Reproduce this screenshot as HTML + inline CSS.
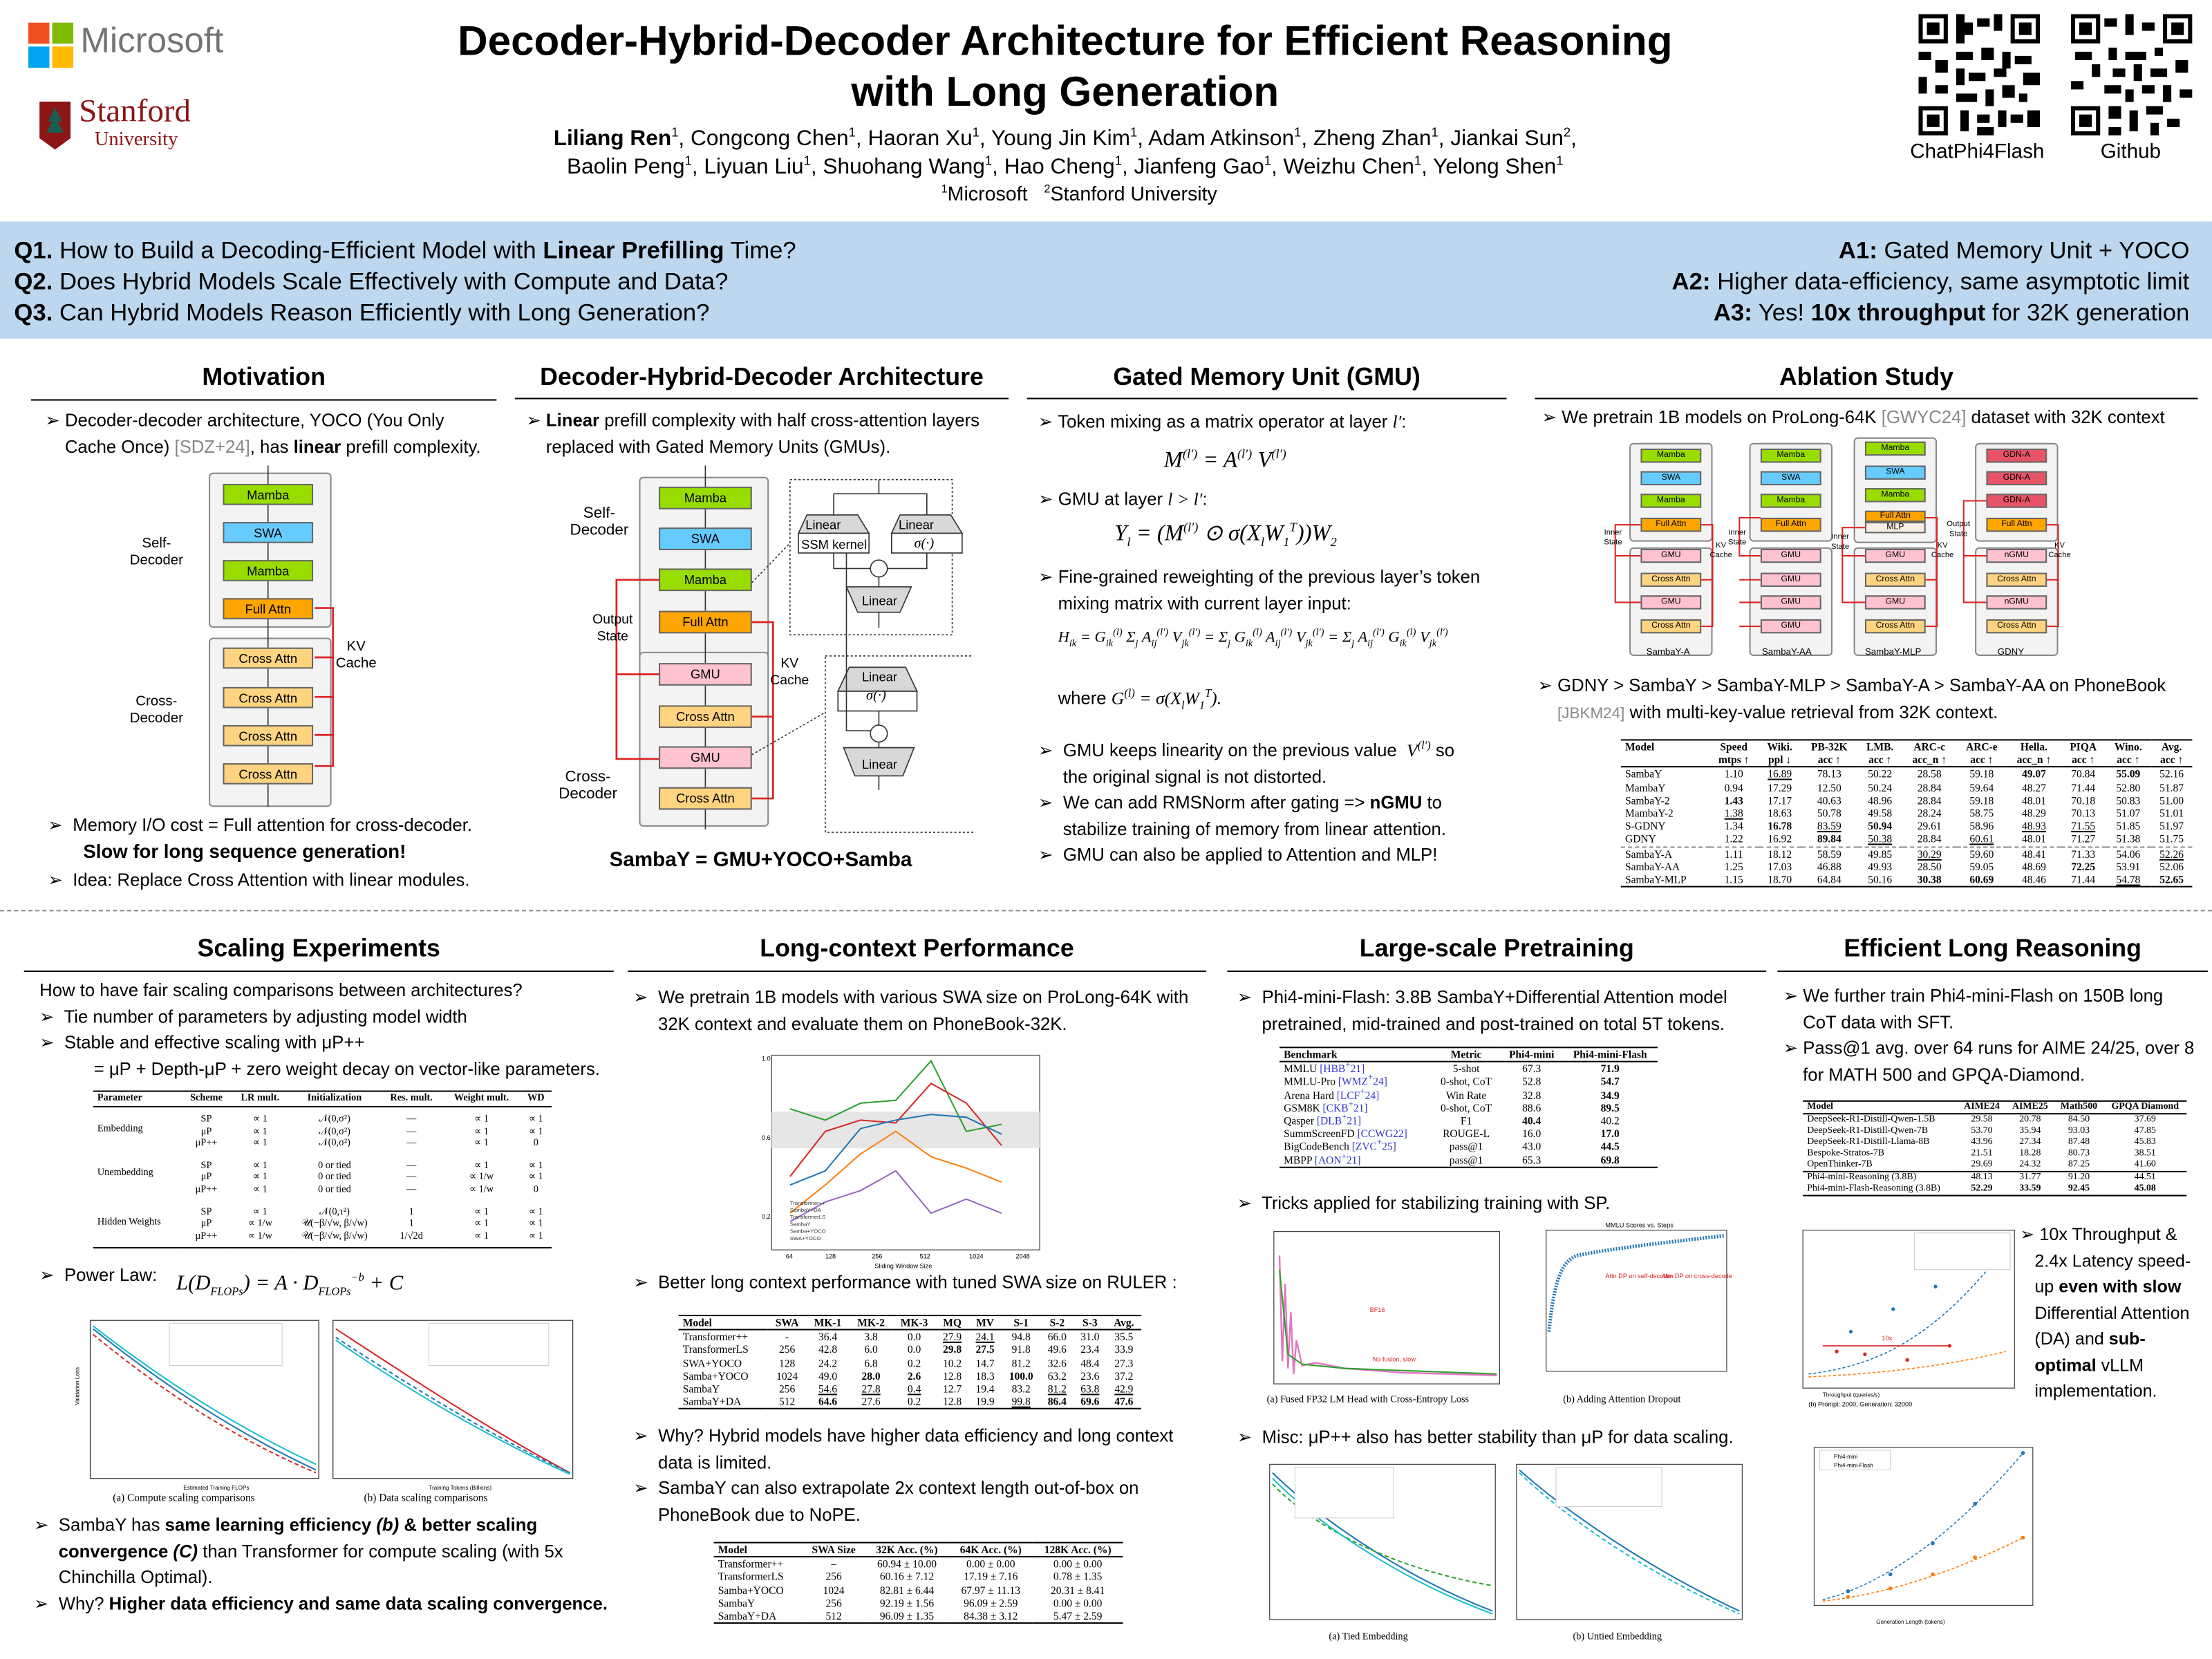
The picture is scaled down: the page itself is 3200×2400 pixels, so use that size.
<!DOCTYPE html>
<html><head><meta charset="utf-8">
<style>
*{margin:0;padding:0;box-sizing:border-box}
sup,sub{line-height:0}
body{width:3200px;height:2400px;overflow:hidden;background:#fff;font-family:"Liberation Sans",sans-serif;color:#000}
#p{position:absolute;left:0;top:0;width:1568px;height:1176px;transform:scale(2.0408);transform-origin:0 0}
.a{position:absolute;white-space:nowrap}
.h{position:absolute;font-weight:bold;font-size:17.5px;text-align:center}
.ul{position:absolute;height:1px;background:#000}
.t{position:absolute;font-size:12.6px;line-height:18.5px;white-space:nowrap}
.cite{color:#888}
.b{position:absolute;border:1px solid #666;text-align:center;font-size:9px;line-height:14px;font-family:"Liberation Sans Narrow","Liberation Sans",sans-serif}
.sb{position:absolute;border:1px solid #888;border-radius:3px;background:#f3f3f3}
.mam{background:#99dd00}.swa{background:#66ccff}.fa{background:#ffa500}.ca{background:#ffd480}.gmu{background:#ffc2cf}.gdn{background:#e75468}.mlp{background:#f7efe4}
.lbl{position:absolute;font-size:10px;text-align:center;line-height:12px}
table{border-collapse:collapse;font-family:"Liberation Serif",serif}
.tb{position:absolute;font-size:7.6px;line-height:9.2px}
.tb td,.tb th{padding:0 3px;white-space:nowrap;text-align:center;vertical-align:top}
.tb td:first-child,.tb th:first-child{text-align:left;vertical-align:middle}
.tb thead tr:first-child th{border-top:1.3px solid #000}
.tb thead tr:last-child th{border-bottom:1px solid #000}
.tb tbody tr:last-child td{border-bottom:1.3px solid #000}
.m{font-family:"Liberation Serif",serif;font-style:italic}
svg{position:absolute}
</style></head><body><div id="p">

<!-- Header -->
<svg style="left:20px;top:16px" width="32" height="32"><rect x="0" y="0" width="15" height="15" fill="#f25022"/><rect x="17" y="0" width="15" height="15" fill="#7fba00"/><rect x="0" y="17" width="15" height="15" fill="#00a4ef"/><rect x="17" y="17" width="15" height="15" fill="#ffb900"/></svg>
<div class="a" style="left:57px;top:15px;font-size:25px;color:#737373">Microsoft</div>
<svg style="left:26px;top:70px" width="26" height="38"><path d="M2 2 H24 V28 L13 36 L2 28Z" fill="#8c1515"/><path d="M13 6 L8 16 H11 L7 24 H19 L15 16 H18Z" fill="#175e54"/></svg>
<div class="a" style="left:56px;top:66px;font-size:23px;color:#8c1515;font-family:'Liberation Serif',serif">Stanford</div>
<div class="a" style="left:67px;top:92px;font-size:14px;color:#8c1515;font-family:'Liberation Serif',serif">University</div>

<div class="a" style="left:0;width:1510px;top:12px;text-align:center;font-size:29.5px;font-weight:bold;line-height:36px">Decoder-Hybrid-Decoder Architecture for Efficient Reasoning<br>with Long Generation</div>
<div class="a" style="left:0;width:1510px;top:89px;text-align:center;font-size:15.5px;line-height:20px"><b>Liliang Ren</b><sup style="font-size:9px">1</sup>, Congcong Chen<sup style="font-size:9px">1</sup>, Haoran Xu<sup style="font-size:9px">1</sup>, Young Jin Kim<sup style="font-size:9px">1</sup>, Adam Atkinson<sup style="font-size:9px">1</sup>, Zheng Zhan<sup style="font-size:9px">1</sup>, Jiankai Sun<sup style="font-size:9px">2</sup>,<br>Baolin Peng<sup style="font-size:9px">1</sup>, Liyuan Liu<sup style="font-size:9px">1</sup>, Shuohang Wang<sup style="font-size:9px">1</sup>, Hao Cheng<sup style="font-size:9px">1</sup>, Jianfeng Gao<sup style="font-size:9px">1</sup>, Weizhu Chen<sup style="font-size:9px">1</sup>, Yelong Shen<sup style="font-size:9px">1</sup></div>
<div class="a" style="left:0;width:1530px;top:129px;text-align:center;font-size:14px"><sup style="font-size:8px">1</sup>Microsoft &nbsp; <sup style="font-size:8px">2</sup>Stanford University</div>

<svg style="left:1360px;top:10px" width="86" height="86" viewBox="0 0 29 29"><rect width="29" height="29" fill="#fff"/><g fill="#000"><rect x="0" y="0" width="7" height="7"/><rect x="22" y="0" width="7" height="7"/><rect x="0" y="22" width="7" height="7"/></g><g fill="#fff"><rect x="1" y="1" width="5" height="5"/><rect x="23" y="1" width="5" height="5"/><rect x="1" y="23" width="5" height="5"/></g><g fill="#000"><rect x="2" y="2" width="3" height="3"/><rect x="24" y="2" width="3" height="3"/><rect x="2" y="24" width="3" height="3"/><path d="M9 0h2v2h2v3h-2v2h-2zM14 1h3v2h-3zM18 0h2v4h-2zM9 9h4v2h-4zM15 8h3v3h-3zM20 9h2v4h-2zM0 9h3v2h-3zM4 11h3v3h-3zM9 13h2v4h-2zM12 14h4v2h-4zM18 13h3v2h-3zM23 10h4v2h-4zM25 14h4v3h-4zM0 15h2v4h-2zM4 17h3v2h-3zM9 19h5v2h-5zM16 18h2v4h-2zM20 17h3v3h-3zM24 19h2v2h-2zM10 23h2v5h-2zM14 24h3v2h-3zM19 23h2v4h-2zM22 24h3v2h-3zM26 23h3v4h-3zM14 27h4v2h-4z"/></g></svg>
<svg style="left:1468px;top:10px" width="86" height="86" viewBox="0 0 29 29"><rect width="29" height="29" fill="#fff"/><g fill="#000"><rect x="0" y="0" width="7" height="7"/><rect x="22" y="0" width="7" height="7"/><rect x="0" y="22" width="7" height="7"/></g><g fill="#fff"><rect x="1" y="1" width="5" height="5"/><rect x="23" y="1" width="5" height="5"/><rect x="1" y="23" width="5" height="5"/></g><g fill="#000"><rect x="2" y="2" width="3" height="3"/><rect x="24" y="2" width="3" height="3"/><rect x="2" y="24" width="3" height="3"/><path d="M8 1h3v2h-3zM13 0h2v5h-2zM17 2h3v2h-3zM9 8h2v3h-2zM13 9h5v2h-5zM20 8h2v2h-2zM1 9h4v2h-4zM5 12h2v3h-2zM10 13h3v2h-3zM15 12h2v4h-2zM19 13h4v2h-4zM25 11h3v3h-3zM0 16h3v2h-3zM8 17h4v2h-4zM13 18h2v3h-2zM17 17h3v2h-3zM22 17h2v4h-2zM26 18h3v2h-3zM9 22h3v3h-3zM14 23h2v5h-2zM18 22h4v2h-4zM23 25h3v2h-3zM9 27h3v2h-3zM19 26h2v3h-2z"/></g></svg>
<div class="a" style="left:1354px;top:100px;font-size:14.5px">ChatPhi4Flash</div>
<div class="a" style="left:1489px;top:100px;font-size:14.5px">Github</div>

<!-- Blue band -->
<div class="a" style="left:0;top:157px;width:1568px;height:83px;background:#bdd7ee"></div>
<div class="a" style="left:10px;top:167px;font-size:17px;line-height:22px"><b>Q1.</b> How to Build a Decoding-Efficient Model with <b>Linear Prefilling</b> Time?<br><b>Q2.</b> Does Hybrid Models Scale Effectively with Compute and Data?<br><b>Q3.</b> Can Hybrid Models Reason Efficiently with Long Generation?</div>
<div class="a" style="right:16px;top:167px;font-size:17px;line-height:22px;text-align:right"><b>A1:</b> Gated Memory Unit + YOCO<br><b>A2:</b> Higher data-efficiency, same asymptotic limit<br><b>A3:</b> Yes! <b>10x throughput</b> for 32K generation</div>

<!-- Row 1 headings -->
<div class="h" style="left:22px;width:330px;top:257px">Motivation</div><div class="ul" style="left:22px;width:330px;top:283px"></div>
<div class="h" style="left:365px;width:350px;top:257px">Decoder-Hybrid-Decoder Architecture</div><div class="ul" style="left:365px;width:350px;top:282px"></div>
<div class="h" style="left:728px;width:340px;top:257px">Gated Memory Unit (GMU)</div><div class="ul" style="left:728px;width:340px;top:282px"></div>
<div class="h" style="left:1088px;width:470px;top:257px">Ablation Study</div><div class="ul" style="left:1088px;width:470px;top:282px"></div>

<!-- Motivation -->
<div class="t" style="left:32px;top:289px">➢ Decoder-decoder architecture, YOCO (You Only<br>&nbsp;&nbsp;&nbsp;&nbsp;Cache Once) <span class="cite">[SDZ+24]</span>, has <b>linear</b> prefill complexity.</div>
<div class="sb" style="left:148px;top:335px;width:87px;height:110px"></div>
<div class="sb" style="left:148px;top:452px;width:87px;height:120px"></div>
<div class="b mam" style="left:158px;top:343px;width:64px;height:15px">Mamba</div>
<div class="b swa" style="left:158px;top:370px;width:64px;height:15px">SWA</div>
<div class="b mam" style="left:158px;top:397px;width:64px;height:15px">Mamba</div>
<div class="b fa" style="left:158px;top:424px;width:64px;height:15px">Full Attn</div>
<div class="b ca" style="left:158px;top:459px;width:64px;height:15px">Cross Attn</div>
<div class="b ca" style="left:158px;top:487px;width:64px;height:15px">Cross Attn</div>
<div class="b ca" style="left:158px;top:514px;width:64px;height:15px">Cross Attn</div>
<div class="b ca" style="left:158px;top:541px;width:64px;height:15px">Cross Attn</div>
<svg style="left:150px;top:330px" width="120" height="250"><g stroke="#333" fill="none" stroke-width=".8"><path d="M40 0V13M40 28V40M40 55V67M40 82V94M40 109V129M40 144V157M40 172V184M40 199V211M40 226V242"/></g><g stroke="#d22" fill="none" stroke-width="1.3"><path d="M73 101H86V213H73M86 136H73M86 164H73M86 191H73"/></g></svg>
<div class="lbl" style="left:238px;top:453px">KV<br>Cache</div>
<div class="lbl" style="left:92px;top:380px">Self-<br>Decoder</div>
<div class="lbl" style="left:92px;top:492px">Cross-<br>Decoder</div>
<div class="t" style="left:34px;top:576px">➢&nbsp; Memory I/O cost = Full attention for cross-decoder.</div>
<div class="a" style="left:59px;top:596px;font-size:13.5px;font-weight:bold">Slow for long sequence generation!</div>
<div class="t" style="left:34px;top:615px">➢&nbsp; Idea: Replace Cross Attention with linear modules.</div>

<!-- Architecture -->
<div class="t" style="left:373px;top:289px">➢ <b>Linear</b> prefill complexity with half cross-attention layers<br>&nbsp;&nbsp;&nbsp;&nbsp;replaced with Gated Memory Units (GMUs).</div>
<div class="sb" style="left:453px;top:338px;width:92px;height:140px"></div>
<div class="sb" style="left:453px;top:462px;width:92px;height:124px"></div>
<div class="b mam" style="left:467px;top:345px;width:66px;height:16px">Mamba</div>
<div class="b swa" style="left:467px;top:374px;width:66px;height:16px">SWA</div>
<div class="b mam" style="left:467px;top:403px;width:66px;height:16px">Mamba</div>
<div class="b fa" style="left:467px;top:433px;width:66px;height:16px">Full Attn</div>
<div class="b gmu" style="left:467px;top:470px;width:66px;height:16px">GMU</div>
<div class="b ca" style="left:467px;top:500px;width:66px;height:16px">Cross Attn</div>
<div class="b gmu" style="left:467px;top:529px;width:66px;height:16px">GMU</div>
<div class="b ca" style="left:467px;top:558px;width:66px;height:16px">Cross Attn</div>
<svg style="left:420px;top:330px" width="270" height="270"><g stroke="#333" fill="none" stroke-width=".8"><path d="M80 0V15M80 31V44M80 60V73M80 89V103M80 119V140M80 156V170M80 186V199M80 215V228M80 244V258"/></g><g stroke="#d22" fill="none" stroke-width="1.3"><path d="M47 81H17V148H47M17 148V208H47M113 111H128V236H113M128 178H113"/></g>
<g stroke="#333" fill="none" stroke-width=".8" stroke-dasharray="1.5,1.5"><rect x="140" y="10" width="115" height="110"/><rect x="165" y="135" width="110" height="125"/><path d="M113 83L140 55M113 205L165 175"/></g>
<g stroke="#333" stroke-width=".8"><path d="M152 35H188L196 48H146Z" fill="#d8d8d8"/><rect x="146" y="48" width="50" height="14" fill="#fff"/><path d="M218 35H254L262 48H212Z" fill="#d8d8d8"/><rect x="212" y="48" width="50" height="14" fill="#fff"/><path d="M180 86H226L218 104H188Z" fill="#d8d8d8"/><circle cx="203" cy="73" r="6" fill="#fff"/><path d="M182 143H222L230 160H174Z" fill="#d8d8d8"/><rect x="174" y="160" width="56" height="14" fill="#fff"/><circle cx="203" cy="190" r="6" fill="#fff"/><path d="M178 200H228L220 220H186Z" fill="#d8d8d8"/><path d="M203 20V10M171 20H237V35M171 20V35M171 62V73H197M237 62V73H209M203 79V86M203 104V115M203 174V184M203 196V200M203 220V230M180 62V130H180V188H197" fill="none"/></g></svg>
<div class="lbl" style="left:571px;top:366px;font-size:9px">Linear</div>
<div class="lbl" style="left:637px;top:366px;font-size:9px">Linear</div>
<div class="lbl" style="left:568px;top:380px;font-size:9px">SSM kernel</div>
<div class="lbl m" style="left:648px;top:380px;font-size:10px">σ(·)</div>
<div class="lbl" style="left:611px;top:420px;font-size:9px">Linear</div>
<div class="lbl" style="left:611px;top:474px;font-size:9px">Linear</div>
<div class="lbl m" style="left:614px;top:488px;font-size:10px">σ(·)</div>
<div class="lbl" style="left:611px;top:536px;font-size:9px">Linear</div>
<div class="lbl" style="left:404px;top:358px;font-size:11px">Self-<br>Decoder</div>
<div class="lbl" style="left:420px;top:434px;font-size:9.5px">Output<br>State</div>
<div class="lbl" style="left:546px;top:465px;font-size:9.5px">KV<br>Cache</div>
<div class="lbl" style="left:396px;top:545px;font-size:11px">Cross-<br>Decoder</div>
<div class="a" style="left:432px;top:602px;font-size:14.5px;font-weight:bold">SambaY = GMU+YOCO+Samba</div>

<!-- GMU -->
<div class="t" style="left:736px;top:290px">➢ Token mixing as a matrix operator at layer <span class="m">l′</span>:</div>
<div class="a m" style="left:825px;top:318px;font-size:16px">M<sup style="font-size:9px">(l′)</sup> = A<sup style="font-size:9px">(l′)</sup> V<sup style="font-size:9px">(l′)</sup></div>
<div class="t" style="left:736px;top:345px">➢ GMU at layer <span class="m">l &gt; l′</span>:</div>
<div class="a m" style="left:790px;top:368px;font-size:16px">Y<sub style="font-size:9px">l</sub> = (M<sup style="font-size:9px">(l′)</sup> ⊙ σ(X<sub style="font-size:9px">l</sub>W<sub style="font-size:9px">1</sub><sup style="font-size:9px">T</sup>))W<sub style="font-size:9px">2</sub></div>
<div class="t" style="left:736px;top:400px">➢ Fine-grained reweighting of the previous layer’s token<br>&nbsp;&nbsp;&nbsp;&nbsp;mixing matrix with current layer input:</div>
<div class="a m" style="left:750px;top:446px;font-size:11px">H<sub style="font-size:7px">ik</sub> = G<sub style="font-size:7px">ik</sub><sup style="font-size:7px">(l)</sup> Σ<sub style="font-size:7px">j</sub> A<sub style="font-size:7px">ij</sub><sup style="font-size:7px">(l′)</sup> V<sub style="font-size:7px">jk</sub><sup style="font-size:7px">(l′)</sup> = Σ<sub style="font-size:7px">j</sub> G<sub style="font-size:7px">ik</sub><sup style="font-size:7px">(l)</sup> A<sub style="font-size:7px">ij</sub><sup style="font-size:7px">(l′)</sup> V<sub style="font-size:7px">jk</sub><sup style="font-size:7px">(l′)</sup> = Σ<sub style="font-size:7px">j</sub> A<sub style="font-size:7px">ij</sub><sup style="font-size:7px">(l′)</sup> G<sub style="font-size:7px">ik</sub><sup style="font-size:7px">(l)</sup> V<sub style="font-size:7px">jk</sub><sup style="font-size:7px">(l′)</sup></div>
<div class="t" style="left:750px;top:486px">where <span class="m">G<sup style="font-size:8px">(l)</sup> = σ(X<sub style="font-size:8px">l</sub>W<sub style="font-size:8px">1</sub><sup style="font-size:8px">T</sup>).</span></div>
<div class="t" style="left:736px;top:523px">➢&nbsp; GMU keeps linearity on the previous value &nbsp;<span class="m">V<sup style="font-size:8px">(l′)</sup></span> so<br>&nbsp;&nbsp;&nbsp;&nbsp;&nbsp;the original signal is not distorted.<br>➢&nbsp; We can add RMSNorm after gating =&gt; <b>nGMU</b> to<br>&nbsp;&nbsp;&nbsp;&nbsp;&nbsp;stabilize training of memory from linear attention.<br>➢&nbsp; GMU can also be applied to Attention and MLP!</div>

<!-- Ablation -->
<div class="t" style="left:1093px;top:287px">➢ We pretrain 1B models on ProLong-64K <span class="cite">[GWYC24]</span> dataset with 32K context</div>
<div class="sb" style="left:1155px;top:314px;width:59px;height:70px"></div><div class="sb" style="left:1155px;top:388px;width:59px;height:77px"></div>
<div class="b mam" style="left:1163px;top:318px;width:43px;height:10px;font-size:6px;line-height:9px">Mamba</div>
<div class="b swa" style="left:1163px;top:334px;width:43px;height:10px;font-size:6px;line-height:9px">SWA</div>
<div class="b mam" style="left:1163px;top:350px;width:43px;height:10px;font-size:6px;line-height:9px">Mamba</div>
<div class="b fa" style="left:1163px;top:367px;width:43px;height:10px;font-size:6px;line-height:9px">Full Attn</div>
<div class="b gmu" style="left:1163px;top:389px;width:43px;height:10px;font-size:6px;line-height:9px">GMU</div>
<div class="b ca" style="left:1163px;top:406px;width:43px;height:10px;font-size:6px;line-height:9px">Cross Attn</div>
<div class="b gmu" style="left:1163px;top:422px;width:43px;height:10px;font-size:6px;line-height:9px">GMU</div>
<div class="b ca" style="left:1163px;top:439px;width:43px;height:10px;font-size:6px;line-height:9px">Cross Attn</div>
<div class="sb" style="left:1240px;top:314px;width:59px;height:70px"></div><div class="sb" style="left:1240px;top:388px;width:59px;height:77px"></div>
<div class="b mam" style="left:1248px;top:318px;width:43px;height:10px;font-size:6px;line-height:9px">Mamba</div>
<div class="b swa" style="left:1248px;top:334px;width:43px;height:10px;font-size:6px;line-height:9px">SWA</div>
<div class="b mam" style="left:1248px;top:350px;width:43px;height:10px;font-size:6px;line-height:9px">Mamba</div>
<div class="b fa" style="left:1248px;top:367px;width:43px;height:10px;font-size:6px;line-height:9px">Full Attn</div>
<div class="b gmu" style="left:1248px;top:389px;width:43px;height:10px;font-size:6px;line-height:9px">GMU</div>
<div class="b gmu" style="left:1248px;top:406px;width:43px;height:10px;font-size:6px;line-height:9px">GMU</div>
<div class="b gmu" style="left:1248px;top:422px;width:43px;height:10px;font-size:6px;line-height:9px">GMU</div>
<div class="b gmu" style="left:1248px;top:439px;width:43px;height:10px;font-size:6px;line-height:9px">GMU</div>
<div class="sb" style="left:1314px;top:310px;width:59px;height:75px"></div><div class="sb" style="left:1314px;top:388px;width:59px;height:77px"></div>
<div class="b mam" style="left:1322px;top:313px;width:43px;height:10px;font-size:6px;line-height:9px">Mamba</div>
<div class="b swa" style="left:1322px;top:330px;width:43px;height:10px;font-size:6px;line-height:9px">SWA</div>
<div class="b mam" style="left:1322px;top:346px;width:43px;height:10px;font-size:6px;line-height:9px">Mamba</div>
<div class="b fa" style="left:1322px;top:362px;width:43px;height:8px;font-size:6px;line-height:7px">Full Attn</div>
<div class="b mlp" style="left:1322px;top:370px;width:43px;height:8px;font-size:6px;line-height:7px">MLP</div>
<div class="b gmu" style="left:1322px;top:389px;width:43px;height:10px;font-size:6px;line-height:9px">GMU</div>
<div class="b ca" style="left:1322px;top:406px;width:43px;height:10px;font-size:6px;line-height:9px">Cross Attn</div>
<div class="b gmu" style="left:1322px;top:422px;width:43px;height:10px;font-size:6px;line-height:9px">GMU</div>
<div class="b ca" style="left:1322px;top:439px;width:43px;height:10px;font-size:6px;line-height:9px">Cross Attn</div>
<div class="sb" style="left:1400px;top:314px;width:59px;height:70px"></div><div class="sb" style="left:1400px;top:388px;width:59px;height:77px"></div>
<div class="b gdn" style="left:1408px;top:318px;width:43px;height:10px;font-size:6px;line-height:9px">GDN-A</div>
<div class="b gdn" style="left:1408px;top:334px;width:43px;height:10px;font-size:6px;line-height:9px">GDN-A</div>
<div class="b gdn" style="left:1408px;top:350px;width:43px;height:10px;font-size:6px;line-height:9px">GDN-A</div>
<div class="b fa" style="left:1408px;top:367px;width:43px;height:10px;font-size:6px;line-height:9px">Full Attn</div>
<div class="b gmu" style="left:1408px;top:389px;width:43px;height:10px;font-size:6px;line-height:9px">nGMU</div>
<div class="b ca" style="left:1408px;top:406px;width:43px;height:10px;font-size:6px;line-height:9px">Cross Attn</div>
<div class="b gmu" style="left:1408px;top:422px;width:43px;height:10px;font-size:6px;line-height:9px">nGMU</div>
<div class="b ca" style="left:1408px;top:439px;width:43px;height:10px;font-size:6px;line-height:9px">Cross Attn</div>
<svg style="left:1130px;top:305px" width="350" height="170"><g stroke="#d22" fill="none" stroke-width="1"><path d="M33 67H15V89H33M15 89V122H33M76 67H84V139H76M84 106H76"/><path d="M118 62H103V89H118M103 106H118M103 122H118M103 139H118"/><path d="M192 69H176V89H192M176 89V122H192M235 62H243V139H235M243 106H235"/><path d="M278 50H262V89H278M262 89V122H278M321 67H329V139H321M329 106H321"/></g></svg>
<div class="lbl" style="left:1137px;top:375px;font-size:5.5px;line-height:7px">Inner<br>State</div>
<div class="lbl" style="left:1212px;top:384px;font-size:5.5px;line-height:7px">KV<br>Cache</div>
<div class="lbl" style="left:1225px;top:375px;font-size:5.5px;line-height:7px">Inner<br>State</div>
<div class="lbl" style="left:1298px;top:378px;font-size:5.5px;line-height:7px">Inner<br>State</div>
<div class="lbl" style="left:1369px;top:384px;font-size:5.5px;line-height:7px">KV<br>Cache</div>
<div class="lbl" style="left:1380px;top:369px;font-size:5.5px;line-height:7px">Output<br>State</div>
<div class="lbl" style="left:1452px;top:384px;font-size:5.5px;line-height:7px">KV<br>Cache</div>
<div class="lbl" style="left:1167px;top:457px;font-size:6.5px">SambaY-A</div>
<div class="lbl" style="left:1249px;top:457px;font-size:6.5px">SambaY-AA</div>
<div class="lbl" style="left:1322px;top:457px;font-size:6.5px">SambaY-MLP</div>
<div class="lbl" style="left:1416px;top:457px;font-size:6.5px">GDNY</div>
<div class="t" style="left:1090px;top:477px">➢ GDNY &gt; SambaY &gt; SambaY-MLP &gt; SambaY-A &gt; SambaY-AA on PhoneBook<br>&nbsp;&nbsp;&nbsp;&nbsp;<span class="cite" style="font-size:11px">[JBKM24]</span> with multi-key-value retrieval from 32K context.</div>
<table class="tb" style="left:1149px;top:524px;width:405px"><thead><tr><th>Model</th><th>Speed</th><th>Wiki.</th><th>PB-32K</th><th>LMB.</th><th>ARC-c</th><th>ARC-e</th><th>Hella.</th><th>PIQA</th><th>Wino.</th><th>Avg.</th></tr><tr><th></th><th>mtps ↑</th><th>ppl ↓</th><th>acc ↑</th><th>acc ↑</th><th>acc_n ↑</th><th>acc ↑</th><th>acc_n ↑</th><th>acc ↑</th><th>acc ↑</th><th>acc ↑</th></tr></thead><tbody>
<tr><td>SambaY</td><td>1.10</td><td><u>16.89</u></td><td>78.13</td><td>50.22</td><td>28.58</td><td>59.18</td><td><b>49.07</b></td><td>70.84</td><td><b>55.09</b></td><td>52.16</td></tr>
<tr><td>MambaY</td><td>0.94</td><td>17.29</td><td>12.50</td><td>50.24</td><td>28.84</td><td>59.64</td><td>48.27</td><td>71.44</td><td>52.80</td><td>51.87</td></tr>
<tr><td>SambaY-2</td><td><b>1.43</b></td><td>17.17</td><td>40.63</td><td>48.96</td><td>28.84</td><td>59.18</td><td>48.01</td><td>70.18</td><td>50.83</td><td>51.00</td></tr>
<tr><td>MambaY-2</td><td><u>1.38</u></td><td>18.63</td><td>50.78</td><td>49.58</td><td>28.24</td><td>58.75</td><td>48.29</td><td>70.13</td><td>51.07</td><td>51.01</td></tr>
<tr><td>S-GDNY</td><td>1.34</td><td><b>16.78</b></td><td><u>83.59</u></td><td><b>50.94</b></td><td>29.61</td><td>58.96</td><td><u>48.93</u></td><td><u>71.55</u></td><td>51.85</td><td>51.97</td></tr>
<tr><td>GDNY</td><td>1.22</td><td>16.92</td><td><b>89.84</b></td><td><u>50.38</u></td><td>28.84</td><td><u>60.61</u></td><td>48.01</td><td>71.27</td><td>51.38</td><td>51.75</td></tr>
<tr style="border-top:1px dashed #888"><td>SambaY-A</td><td>1.11</td><td>18.12</td><td>58.59</td><td>49.85</td><td><u>30.29</u></td><td>59.60</td><td>48.41</td><td>71.33</td><td>54.06</td><td><u>52.26</u></td></tr>
<tr><td>SambaY-AA</td><td>1.25</td><td>17.03</td><td>46.88</td><td>49.93</td><td>28.50</td><td>59.05</td><td>48.69</td><td><b>72.25</b></td><td>53.91</td><td>52.06</td></tr>
<tr><td>SambaY-MLP</td><td>1.15</td><td>18.70</td><td>64.84</td><td>50.16</td><td><b>30.38</b></td><td><b>60.69</b></td><td>48.46</td><td>71.44</td><td><u>54.78</u></td><td><b>52.65</b></td></tr></tbody></table>

<div class="a" style="left:0;top:645px;width:1568px;border-top:1.5px dashed #888"></div>

<!-- Row 2 headings -->
<div class="h" style="left:17px;width:418px;top:662px">Scaling Experiments</div><div class="ul" style="left:17px;width:418px;top:688px"></div>
<div class="h" style="left:445px;width:410px;top:662px">Long-context Performance</div><div class="ul" style="left:445px;width:410px;top:688px"></div>
<div class="h" style="left:870px;width:382px;top:662px">Large-scale Pretraining</div><div class="ul" style="left:870px;width:382px;top:688px"></div>
<div class="h" style="left:1260px;width:305px;top:662px">Efficient Long Reasoning</div><div class="ul" style="left:1260px;width:305px;top:688px"></div>

<!-- Scaling -->
<div class="t" style="left:28px;top:693px">How to have fair scaling comparisons between architectures?<br>➢&nbsp; Tie number of parameters by adjusting model width<br>➢&nbsp; Stable and effective scaling with μP++<br>&nbsp;&nbsp;&nbsp;&nbsp;&nbsp;&nbsp;&nbsp;&nbsp;&nbsp;&nbsp;&nbsp;= μP + Depth-μP + zero weight decay on vector-like parameters.</div>
<table class="tb" style="left:66px;top:773px;width:325px;font-size:7px;line-height:8.6px"><thead><tr><th>Parameter</th><th>Scheme</th><th>LR mult.</th><th>Initialization</th><th>Res. mult.</th><th>Weight mult.</th><th>WD</th></tr><tr><th style="height:2px"></th><th></th><th></th><th></th><th></th><th></th><th></th></tr></thead><tbody>
<tr><td>Embedding</td><td style="padding-top:4px">SP<br>μP<br>μP++</td><td style="padding-top:4px">∝ 1<br>∝ 1<br>∝ 1</td><td style="padding-top:4px">𝒩(0,σ²)<br>𝒩(0,σ²)<br>𝒩(0,σ²)</td><td style="padding-top:4px">—<br>—<br>—</td><td style="padding-top:4px">∝ 1<br>∝ 1<br>∝ 1</td><td style="padding-top:4px">∝ 1<br>∝ 1<br>0</td></tr>
<tr><td>Unembedding</td><td style="padding-top:7px">SP<br>μP<br>μP++</td><td style="padding-top:7px">∝ 1<br>∝ 1<br>∝ 1</td><td style="padding-top:7px">0 or tied<br>0 or tied<br>0 or tied</td><td style="padding-top:7px">—<br>—<br>—</td><td style="padding-top:7px">∝ 1<br>∝ 1/w<br>∝ 1/w</td><td style="padding-top:7px">∝ 1<br>∝ 1<br>0</td></tr>
<tr><td>Hidden Weights</td><td style="padding:7px 3px 4px">SP<br>μP<br>μP++</td><td style="padding-top:7px">∝ 1<br>∝ 1/w<br>∝ 1/w</td><td style="padding-top:7px">𝒩(0,τ²)<br>𝒰(−β/√w, β/√w)<br>𝒰(−β/√w, β/√w)</td><td style="padding-top:7px">1<br>1<br>1/√2d</td><td style="padding-top:7px">∝ 1<br>∝ 1<br>∝ 1</td><td style="padding-top:7px">∝ 1<br>∝ 1<br>∝ 1</td></tr></tbody></table>
<div class="t" style="left:28px;top:895px">➢&nbsp; Power Law:</div>
<div class="a m" style="left:125px;top:902px;font-size:15px">L(D<sub style="font-size:8px">FLOPs</sub>) = A · D<sub style="font-size:8px">FLOPs</sub><sup style="font-size:8px">−b</sup> + C</div>
<svg style="left:50px;top:932px" width="180" height="130"><rect x="14" y="4" width="162" height="112" fill="#fff" stroke="#444" stroke-width=".7"/><g fill="none" stroke-width="1"><path d="M16 10 C60 45 110 80 174 110" stroke="#1f77b4"/><path d="M16 14 C60 50 110 85 174 112" stroke="#d62728" stroke-dasharray="3,2"/><path d="M16 8 C60 42 110 76 174 106" stroke="#17becf"/></g><rect x="70" y="6" width="80" height="30" fill="#fff" stroke="#ccc" stroke-width=".5"/><text x="2" y="60" font-size="4" transform="rotate(-90 6 60)">Validation Loss</text><text x="80" y="124" font-size="4">Estimated Training FLOPs</text></svg>
<svg style="left:224px;top:932px" width="185" height="130"><rect x="12" y="4" width="170" height="112" fill="#fff" stroke="#444" stroke-width=".7"/><g fill="none" stroke-width="1"><path d="M14 10 C60 40 120 80 180 112" stroke="#d62728"/><path d="M14 16 C60 46 120 84 180 112" stroke="#1f77b4" stroke-dasharray="3,2"/><path d="M14 18 C60 50 120 86 180 113" stroke="#17becf"/></g><rect x="80" y="6" width="85" height="30" fill="#fff" stroke="#ccc" stroke-width=".5"/><text x="80" y="124" font-size="4">Training Tokens (Billions)</text></svg>
<div class="a" style="left:80px;top:1057px;font-size:7.5px;font-family:'Liberation Serif',serif">(a) Compute scaling comparisons</div>
<div class="a" style="left:258px;top:1057px;font-size:7.5px;font-family:'Liberation Serif',serif">(b) Data scaling comparisons</div>
<div class="t" style="left:24px;top:1072px">➢&nbsp; SambaY has <b>same learning efficiency <i>(b)</i> &amp; better scaling</b><br>&nbsp;&nbsp;&nbsp;&nbsp;&nbsp;<b>convergence <i>(C)</i></b> than Transformer for compute scaling (with 5x<br>&nbsp;&nbsp;&nbsp;&nbsp;&nbsp;Chinchilla Optimal).<br>➢&nbsp; Why? <b>Higher data efficiency and same data scaling convergence.</b></div>

<!-- Long-context -->
<div class="t" style="left:449px;top:698px">➢&nbsp; We pretrain 1B models with various SWA size on ProLong-64K with<br>&nbsp;&nbsp;&nbsp;&nbsp;&nbsp;32K context and evaluate them on PhoneBook-32K.</div>
<svg style="left:530px;top:742px" width="210" height="160"><rect x="17" y="6" width="190" height="138" fill="#fff" stroke="#444" stroke-width=".6"/><rect x="17" y="46" width="190" height="26" fill="#e6e6e6"/><g fill="none" stroke-width="1"><path d="M30 44L55 52L80 40L105 38L130 10L155 60L180 55" stroke="#2ca02c"/><path d="M30 92L55 60L80 52L105 54L130 26L155 40L180 70" stroke="#d62728"/><path d="M30 98L55 88L80 58L105 52L130 48L155 50L180 62" stroke="#1f77b4"/><path d="M30 124L55 110L80 102L105 88L130 118L155 108L180 118" stroke="#9467bd"/><path d="M30 118L55 98L80 76L105 60L130 78L155 86L180 96" stroke="#ff7f0e"/></g><text x="10" y="10" font-size="4.5">1.0</text><text x="10" y="66" font-size="4.5">0.6</text><text x="10" y="122" font-size="4.5">0.2</text><text x="27" y="150" font-size="4.5">64</text><text x="55" y="150" font-size="4.5">128</text><text x="88" y="150" font-size="4.5">256</text><text x="122" y="150" font-size="4.5">512</text><text x="157" y="150" font-size="4.5">1024</text><text x="190" y="150" font-size="4.5">2048</text><text x="90" y="157" font-size="4.5">Sliding Window Size</text><text x="30" y="112" font-size="3.8" fill="#333">Transformer++</text><text x="30" y="117" font-size="3.8" fill="#333">SambaY+DA</text><text x="30" y="122" font-size="3.8" fill="#333">TransformerLS</text><text x="30" y="127" font-size="3.8" fill="#333">SambaY</text><text x="30" y="132" font-size="3.8" fill="#333">Samba+YOCO</text><text x="30" y="137" font-size="3.8" fill="#333">SWA+YOCO</text></svg>
<div class="t" style="left:449px;top:900px">➢&nbsp; Better long context performance with tuned SWA size on RULER :</div>
<table class="tb" style="left:481px;top:932px;width:328px"><thead><tr><th>Model</th><th>SWA</th><th>MK-1</th><th>MK-2</th><th>MK-3</th><th>MQ</th><th>MV</th><th>S-1</th><th>S-2</th><th>S-3</th><th>Avg.</th></tr><tr><th></th><th></th><th></th><th></th><th></th><th></th><th></th><th></th><th></th><th></th><th></th></tr></thead><tbody>
<tr><td>Transformer++</td><td>-</td><td>36.4</td><td>3.8</td><td>0.0</td><td><u>27.9</u></td><td><u>24.1</u></td><td>94.8</td><td>66.0</td><td>31.0</td><td>35.5</td></tr>
<tr><td>TransformerLS</td><td>256</td><td>42.8</td><td>6.0</td><td>0.0</td><td><b>29.8</b></td><td><b>27.5</b></td><td>91.8</td><td>49.6</td><td>23.4</td><td>33.9</td></tr>
<tr><td>SWA+YOCO</td><td>128</td><td>24.2</td><td>6.8</td><td>0.2</td><td>10.2</td><td>14.7</td><td>81.2</td><td>32.6</td><td>48.4</td><td>27.3</td></tr>
<tr><td>Samba+YOCO</td><td>1024</td><td>49.0</td><td><b>28.0</b></td><td><b>2.6</b></td><td>12.8</td><td>18.3</td><td><b>100.0</b></td><td>63.2</td><td>23.6</td><td>37.2</td></tr>
<tr><td>SambaY</td><td>256</td><td><u>54.6</u></td><td><u>27.8</u></td><td><u>0.4</u></td><td>12.7</td><td>19.4</td><td>83.2</td><td><u>81.2</u></td><td><u>63.8</u></td><td><u>42.9</u></td></tr>
<tr><td>SambaY+DA</td><td>512</td><td><b>64.6</b></td><td>27.6</td><td>0.2</td><td>12.8</td><td>19.9</td><td><u>99.8</u></td><td><b>86.4</b></td><td><b>69.6</b></td><td><b>47.6</b></td></tr></tbody></table>
<div class="t" style="left:449px;top:1009px">➢&nbsp; Why? Hybrid models have higher data efficiency and long context<br>&nbsp;&nbsp;&nbsp;&nbsp;&nbsp;data is limited.<br>➢&nbsp; SambaY can also extrapolate 2x context length out-of-box on<br>&nbsp;&nbsp;&nbsp;&nbsp;&nbsp;PhoneBook due to NoPE.</div>
<table class="tb" style="left:506px;top:1093px;width:290px"><thead><tr><th>Model</th><th>SWA Size</th><th>32K Acc. (%)</th><th>64K Acc. (%)</th><th>128K Acc. (%)</th></tr><tr><th></th><th></th><th></th><th></th><th></th></tr></thead><tbody>
<tr><td>Transformer++</td><td>–</td><td>60.94 ± 10.00</td><td>0.00 ± 0.00</td><td>0.00 ± 0.00</td></tr>
<tr><td>TransformerLS</td><td>256</td><td>60.16 ± 7.12</td><td>17.19 ± 7.16</td><td>0.78 ± 1.35</td></tr>
<tr><td>Samba+YOCO</td><td>1024</td><td>82.81 ± 6.44</td><td>67.97 ± 11.13</td><td>20.31 ± 8.41</td></tr>
<tr><td>SambaY</td><td>256</td><td>92.19 ± 1.56</td><td>96.09 ± 2.59</td><td>0.00 ± 0.00</td></tr>
<tr><td>SambaY+DA</td><td>512</td><td>96.09 ± 1.35</td><td>84.38 ± 3.12</td><td>5.47 ± 2.59</td></tr></tbody></table>

<!-- Large-scale -->
<div class="t" style="left:877px;top:698px">➢&nbsp; Phi4-mini-Flash: 3.8B SambaY+Differential Attention model<br>&nbsp;&nbsp;&nbsp;&nbsp;&nbsp;pretrained, mid-trained and post-trained on total 5T tokens.</div>
<table class="tb" style="left:907px;top:742px;width:268px"><thead><tr><th>Benchmark</th><th>Metric</th><th>Phi4-mini</th><th>Phi4-mini-Flash</th></tr><tr><th></th><th></th><th></th><th></th></tr></thead><tbody>
<tr><td>MMLU <span style="color:#33c">[HBB<sup>+</sup>21]</span></td><td>5-shot</td><td>67.3</td><td><b>71.9</b></td></tr>
<tr><td>MMLU-Pro <span style="color:#33c">[WMZ<sup>+</sup>24]</span></td><td>0-shot, CoT</td><td>52.8</td><td><b>54.7</b></td></tr>
<tr><td>Arena Hard <span style="color:#33c">[LCF<sup>+</sup>24]</span></td><td>Win Rate</td><td>32.8</td><td><b>34.9</b></td></tr>
<tr><td>GSM8K <span style="color:#33c">[CKB<sup>+</sup>21]</span></td><td>0-shot, CoT</td><td>88.6</td><td><b>89.5</b></td></tr>
<tr><td>Qasper <span style="color:#33c">[DLB<sup>+</sup>21]</span></td><td>F1</td><td><b>40.4</b></td><td>40.2</td></tr>
<tr><td>SummScreenFD <span style="color:#33c">[CCWG22]</span></td><td>ROUGE-L</td><td>16.0</td><td><b>17.0</b></td></tr>
<tr><td>BigCodeBench <span style="color:#33c">[ZVC<sup>+</sup>25]</span></td><td>pass@1</td><td>43.0</td><td><b>44.5</b></td></tr>
<tr><td>MBPP <span style="color:#33c">[AON<sup>+</sup>21]</span></td><td>pass@1</td><td>65.3</td><td><b>69.8</b></td></tr></tbody></table>
<div class="t" style="left:877px;top:844px">➢&nbsp; Tricks applied for stabilizing training with SP.</div>
<svg style="left:893px;top:870px" width="175" height="118"><rect x="10" y="3" width="160" height="108" fill="#fff" stroke="#444" stroke-width=".6"/><path d="M14 20 L16 95 L18 40 L20 100 L22 60 L24 104 L26 80 L30 98 L40 96 L60 100 L100 103 L168 105" fill="none" stroke="#e377c2" stroke-width="1.2"/><path d="M14 30 L20 90 L30 97 L60 100 L168 104" fill="none" stroke="#2ca02c" stroke-width="1"/><text x="78" y="60" font-size="4.5" fill="#d22">BF16</text><text x="80" y="95" font-size="4.5" fill="#d22">No fusion, slow</text></svg>
<svg style="left:1078px;top:864px" width="150" height="124"><rect x="18" y="8" width="128" height="100" fill="#fff" stroke="#444" stroke-width=".6"/><path d="M20 80 C24 40 30 30 40 26 C70 20 110 16 144 12" fill="none" stroke="#1f77b4" stroke-width="2.5" stroke-dasharray="1,1"/><text x="60" y="6" font-size="4.5">MMLU Scores vs. Steps</text><text x="60" y="42" font-size="4.5" fill="#d22">Attn DP on self-decoder</text><text x="100" y="42" font-size="4.5" fill="#d22">Attn DP on cross-decoder</text></svg>
<div class="a" style="left:898px;top:988px;font-size:7px;font-family:'Liberation Serif',serif">(a) Fused FP32 LM Head with Cross-Entropy Loss</div>
<div class="a" style="left:1108px;top:988px;font-size:7px;font-family:'Liberation Serif',serif">(b) Adding Attention Dropout</div>
<div class="t" style="left:877px;top:1010px">➢&nbsp; Misc: μP++ also has better stability than μP for data scaling.</div>
<svg style="left:888px;top:1034px" width="175" height="120"><rect x="12" y="4" width="160" height="110" fill="#fff" stroke="#444" stroke-width=".6"/><g fill="none" stroke-width="1"><path d="M14 10 C50 45 110 85 170 108" stroke="#1f77b4"/><path d="M14 18 C50 55 110 80 170 90" stroke="#2ca02c" stroke-dasharray="3,2"/><path d="M14 14 C50 50 110 88 170 110" stroke="#17becf"/></g><rect x="30" y="6" width="70" height="36" fill="#fff" stroke="#ccc" stroke-width=".5"/></svg>
<svg style="left:1063px;top:1034px" width="175" height="120"><rect x="12" y="4" width="160" height="110" fill="#fff" stroke="#444" stroke-width=".6"/><g fill="none" stroke-width="1"><path d="M14 8 C50 40 110 80 170 108" stroke="#1f77b4"/><path d="M14 10 C50 45 110 84 170 110" stroke="#17becf" stroke-dasharray="3,2"/></g><rect x="40" y="6" width="75" height="28" fill="#fff" stroke="#ccc" stroke-width=".5"/></svg>
<div class="a" style="left:942px;top:1156px;font-size:7px;font-family:'Liberation Serif',serif">(a) Tied Embedding</div>
<div class="a" style="left:1115px;top:1156px;font-size:7px;font-family:'Liberation Serif',serif">(b) Untied Embedding</div>

<!-- Efficient -->
<div class="t" style="left:1264px;top:697px">➢ We further train Phi4-mini-Flash on 150B long<br>&nbsp;&nbsp;&nbsp;&nbsp;CoT data with SFT.<br>➢ Pass@1 avg. over 64 runs for AIME 24/25, over 8<br>&nbsp;&nbsp;&nbsp;&nbsp;for MATH 500 and GPQA-Diamond.</div>
<table class="tb" style="left:1278px;top:780px;width:272px;font-size:6.8px;line-height:8px"><thead><tr><th>Model</th><th>AIME24</th><th>AIME25</th><th>Math500</th><th>GPQA Diamond</th></tr><tr><th></th><th></th><th></th><th></th><th></th></tr></thead><tbody>
<tr><td>DeepSeek-R1-Distill-Qwen-1.5B</td><td>29.58</td><td>20.78</td><td>84.50</td><td>37.69</td></tr>
<tr><td>DeepSeek-R1-Distill-Qwen-7B</td><td>53.70</td><td>35.94</td><td>93.03</td><td>47.85</td></tr>
<tr><td>DeepSeek-R1-Distill-Llama-8B</td><td>43.96</td><td>27.34</td><td>87.48</td><td>45.83</td></tr>
<tr><td>Bespoke-Stratos-7B</td><td>21.51</td><td>18.28</td><td>80.73</td><td>38.51</td></tr>
<tr><td>OpenThinker-7B</td><td>29.69</td><td>24.32</td><td>87.25</td><td>41.60</td></tr>
<tr style="border-top:1px solid #000"><td>Phi4-mini-Reasoning (3.8B)</td><td>48.13</td><td>31.77</td><td>91.20</td><td>44.51</td></tr>
<tr><td>Phi4-mini-Flash-Reasoning (3.8B)</td><td><b>52.29</b></td><td><b>33.59</b></td><td><b>92.45</b></td><td><b>45.08</b></td></tr></tbody></table>
<svg style="left:1262px;top:868px" width="168" height="135"><rect x="16" y="4" width="150" height="112" fill="#fff" stroke="#444" stroke-width=".6"/><g fill="none" stroke-width=".8"><path d="M20 106 C70 100 110 80 160 16" stroke="#1f77b4" stroke-dasharray="2,1.5"/><path d="M20 108 C70 106 120 100 160 90" stroke="#ff7f0e" stroke-dasharray="2,1.5"/><path d="M30 86 H120" stroke="#d22"/></g><g fill="#d22"><circle cx="40" cy="90" r="1.3"/><circle cx="60" cy="92" r="1.3"/><circle cx="90" cy="96" r="1.3"/><circle cx="120" cy="86" r="1.3"/></g><g fill="#1f77b4"><circle cx="50" cy="76" r="1.3"/><circle cx="80" cy="60" r="1.3"/><circle cx="110" cy="44" r="1.3"/><circle cx="150" cy="26" r="1.3"/></g><rect x="95" y="6" width="68" height="26" fill="#fff" stroke="#ccc" stroke-width=".5"/><text x="72" y="82" font-size="4.5" fill="#d22">10x</text><text x="30" y="122" font-size="4">Throughput (queries/s)</text><text x="20" y="129" font-size="4.5">(b) Prompt: 2000, Generation: 32000</text></svg>
<div class="t" style="left:1432px;top:866px;font-size:12.3px">➢ 10x Throughput &amp;<br>&nbsp;&nbsp;&nbsp;2.4x Latency speed-<br>&nbsp;&nbsp;&nbsp;up <b>even with slow</b><br>&nbsp;&nbsp;&nbsp;Differential Attention<br>&nbsp;&nbsp;&nbsp;(DA) and <b>sub-</b><br>&nbsp;&nbsp;&nbsp;<b>optimal</b> vLLM<br>&nbsp;&nbsp;&nbsp;implementation.</div>
<svg style="left:1270px;top:1022px" width="175" height="132"><rect x="16" y="4" width="155" height="112" fill="#fff" stroke="#444" stroke-width=".6"/><g fill="none" stroke-width=".8" stroke-dasharray="2,1.5"><path d="M22 112 C70 100 120 60 164 8" stroke="#1f77b4"/><path d="M22 113 C70 108 120 90 164 68" stroke="#ff7f0e"/></g><g fill="#1f77b4"><circle cx="40" cy="106" r="1.4"/><circle cx="70" cy="94" r="1.4"/><circle cx="100" cy="72" r="1.4"/><circle cx="130" cy="44" r="1.4"/><circle cx="164" cy="8" r="1.4"/></g><g fill="#ff7f0e"><circle cx="40" cy="110" r="1.4"/><circle cx="70" cy="104" r="1.4"/><circle cx="100" cy="94" r="1.4"/><circle cx="130" cy="82" r="1.4"/><circle cx="164" cy="68" r="1.4"/></g><rect x="20" y="6" width="50" height="14" fill="#fff" stroke="#ccc" stroke-width=".5"/><text x="30" y="12" font-size="4">Phi4-mini</text><text x="30" y="18" font-size="4">Phi4-mini-Flash</text><text x="60" y="129" font-size="4">Generation Length (tokens)</text></svg>

</div></body></html>
